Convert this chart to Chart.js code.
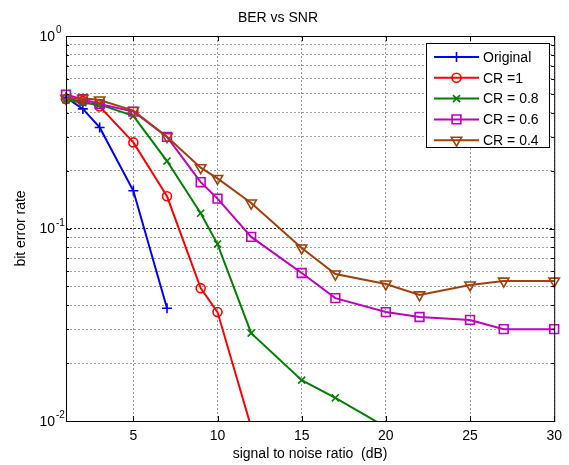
<!DOCTYPE html>
<html lang="en">
<head>
<meta charset="UTF-8">
<title>BER vs SNR</title>
<script src="https://cdn.jsdelivr.net/npm/chart.js"></script>
<style>
  body { margin: 0; background: #fff; }
  #wrap { width: 569px; height: 465px; }
</style>
</head>
<body>
<div id="wrap"><canvas id="berChart" width="569" height="465"></canvas></div>
<script>
// SNR points (dB) of each curve
const snrOriginal = [1, 2, 3, 5, 7];
const snrCr1 = [1, 2, 3, 5, 7, 9, 10, 12];
const snrCr08 = [1, 2, 3, 5, 7, 9, 10, 12, 15, 17, 20];
const snrCr06 = [1, 2, 3, 5, 7, 9, 10, 12, 15, 17, 20, 22, 25, 27, 30];
const snrCr04 = [1, 2, 3, 5, 7, 9, 10, 12, 15, 17, 20, 22, 25, 27, 30];

// bit error rate
const berOriginal = [0.48, 0.418, 0.335, 0.157, 0.0385];
const berCr1 = [0.47, 0.46, 0.43, 0.28, 0.147, 0.049, 0.0368, 0.0093];
const berCr08 = [0.465, 0.45, 0.44, 0.385, 0.224, 0.12, 0.083, 0.0286, 0.0163, 0.0132, 0.0093];
const berCr06 = [0.495, 0.47, 0.443, 0.405, 0.299, 0.174, 0.143, 0.0904, 0.0587, 0.0435, 0.0368, 0.0347, 0.0335, 0.030, 0.030];
const berCr04 = [0.475, 0.475, 0.465, 0.41, 0.30, 0.207, 0.182, 0.1356, 0.0792, 0.058, 0.0515, 0.0452, 0.0509, 0.0533, 0.0533];

const seriesLabels = ['Original', 'CR =1', 'CR = 0.8', 'CR = 0.6', 'CR = 0.4'];

// axis ticks
const xTicks = [5, 10, 15, 20, 25, 30];
const yDecades = [0.01, 0.1, 1];
const yExponents = ['-2', '-1', '0'];

const FONT = '"Liberation Sans", Arial, sans-serif';
Chart.defaults.font.family = FONT;
Chart.defaults.font.size = 14;
Chart.defaults.color = '#000';

// log ticks 1..9 within each decade
const yTicks = [];
for (let i = 0; i < yDecades.length - 1; i++) {
    for (let m = 1; m < 10; m++) {
        yTicks.push(+(yDecades[i] * m).toPrecision(3));
    }
}
yTicks.push(yDecades[yDecades.length - 1]);

function points(xs, ys) {
    return xs.map((x, i) => ({ x: x, y: ys[i] }));
}

const styles = [
    { color: '#0000ff', pointStyle: 'cross', radius: 5, rotation: 0 },
    { color: '#ff0000', pointStyle: 'circle', radius: 4.5, rotation: 0 },
    { color: '#008000', pointStyle: 'crossRot', radius: 5, rotation: 0 },
    { color: '#bf00bf', pointStyle: 'rect', radius: 6.2, rotation: 0 },
    { color: '#a0400a', pointStyle: 'triangle', radius: 6, rotation: 180 }
];

const allData = [
    points(snrOriginal, berOriginal),
    points(snrCr1, berCr1),
    points(snrCr08, berCr08),
    points(snrCr06, berCr06),
    points(snrCr04, berCr04)
];

const datasets = allData.map((d, i) => ({
    label: seriesLabels[i],
    data: d,
    borderColor: styles[i].color,
    backgroundColor: styles[i].color,
    borderWidth: 2,
    tension: 0,
    pointStyle: styles[i].pointStyle,
    pointRadius: styles[i].radius,
    pointRotation: styles[i].rotation,
    pointBorderColor: styles[i].color,
    pointBackgroundColor: 'rgba(0,0,0,0)',
    pointBorderWidth: 1.6,
    // markers may spill over the side edges, lines stop at the bottom
    clip: { left: 10, right: 10, top: 10, bottom: 0 },
    order: allData.length - i
}));

// frame, inward ticks, superscript y labels and the legend box
const decorPlugin = {
    id: 'decor',
    afterDraw(chart) {
        const { ctx, chartArea: a, scales } = chart;
        ctx.save();
        ctx.strokeStyle = '#000';
        ctx.lineWidth = 1;
        ctx.strokeRect(a.left + 0.5, a.top + 0.5, a.right - a.left, a.bottom - a.top);

        ctx.beginPath();
        xTicks.forEach(v => {
            const x = Math.round(scales.x.getPixelForValue(v)) + 0.5;
            ctx.moveTo(x, a.bottom); ctx.lineTo(x, a.bottom - 5);
            ctx.moveTo(x, a.top); ctx.lineTo(x, a.top + 5);
        });
        yTicks.forEach(v => {
            const y = Math.round(scales.y.getPixelForValue(v)) + 0.5;
            const len = yDecades.includes(v) ? 5 : 3;
            ctx.moveTo(a.left, y); ctx.lineTo(a.left + len, y);
            ctx.moveTo(a.right, y); ctx.lineTo(a.right - len, y);
        });
        ctx.stroke();

        yDecades.forEach((v, i) => {
            const y = scales.y.getPixelForValue(v);
            ctx.fillStyle = '#000';
            ctx.font = '14px ' + FONT;
            ctx.textAlign = 'right';
            ctx.textBaseline = 'middle';
            ctx.fillText('10', a.left - 11, y + 1);
            ctx.font = '10px ' + FONT;
            ctx.textAlign = 'left';
            ctx.textBaseline = 'alphabetic';
            ctx.fillText(yExponents[i], a.left - 10, y - 3);
        });

        // legend
        const lx = 426, ly = 43, lw = 123, lh = 104;
        ctx.fillStyle = '#fff';
        ctx.fillRect(lx, ly, lw, lh);
        ctx.strokeStyle = '#000';
        ctx.strokeRect(lx + 0.5, ly + 0.5, lw, lh);
        chart.data.datasets.forEach((ds, i) => {
            const y = 57 + i * 20.8;
            ctx.strokeStyle = ds.borderColor;
            ctx.lineWidth = 2;
            ctx.beginPath();
            ctx.moveTo(434, y); ctx.lineTo(479, y);
            ctx.stroke();
            ctx.lineWidth = 1.6;
            ctx.fillStyle = 'rgba(0,0,0,0)';
            Chart.helpers.drawPoint(ctx, {
                pointStyle: ds.pointStyle,
                radius: ds.pointRadius,
                rotation: ds.pointRotation,
                borderWidth: 1.6
            }, 456.5, y);
            ctx.fillStyle = '#000';
            ctx.font = '14px ' + FONT;
            ctx.textAlign = 'left';
            ctx.textBaseline = 'middle';
            ctx.fillText(ds.label, 483, y + 1);
        });
        ctx.restore();
    }
};

const ctx = document.getElementById('berChart').getContext('2d');
new Chart(ctx, {
    type: 'line',
    data: { datasets: datasets },
    options: {
        responsive: false,
        animation: false,
        devicePixelRatio: 1,
        layout: { padding: { left: 0, right: 13, top: 0, bottom: 0 } },
        plugins: {
            legend: { display: false },
            tooltip: { enabled: false },
            title: {
                display: true,
                text: 'BER vs SNR',
                font: { size: 14, weight: 'normal' },
                color: '#000',
                padding: { top: 10, bottom: 9.2 }
            }
        },
        scales: {
            x: {
                type: 'linear',
                min: 1,
                max: 30,
                afterBuildTicks: s => { s.ticks = xTicks.map(v => ({ value: v })); },
                afterFit: s => { s.height = 44; },
                ticks: { padding: 7, color: '#000', maxRotation: 0 },
                grid: { drawTicks: false, color: '#9a9a9a', lineWidth: 1 },
                border: { display: false, dash: [2, 2] },
                title: {
                    display: true,
                    text: 'signal to noise ratio  (dB)',
                    font: { size: 14 },
                    padding: { top: 0, bottom: 2 }
                }
            },
            y: {
                type: 'logarithmic',
                min: 0.01,
                max: 1,
                afterBuildTicks: s => { s.ticks = yTicks.map(v => ({ value: v })); },
                afterFit: s => { s.width = 66; },
                ticks: { display: false },
                grid: {
                    drawTicks: false,
                    lineWidth: 1,
                    color: c => (c.tick && yDecades.includes(c.tick.value)) ? '#222' : '#9a9a9a'
                },
                border: { display: false, dash: [2, 2] },
                title: {
                    display: true,
                    text: 'bit error rate',
                    font: { size: 14 },
                    padding: { top: 13, bottom: 0 }
                }
            }
        }
    },
    plugins: [decorPlugin]
});
</script>
</body>
</html>
